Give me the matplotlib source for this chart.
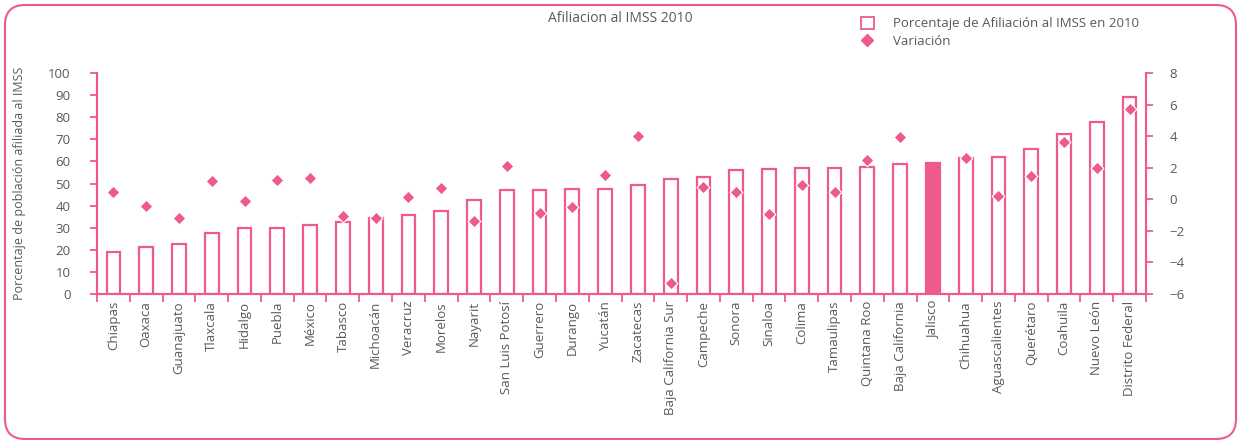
import numpy as np
import matplotlib
matplotlib.use("Agg")
import matplotlib.pyplot as plt
from matplotlib.patches import FancyBboxPatch, Patch
from matplotlib.lines import Line2D
from matplotlib.transforms import IdentityTransform

estados = ["Chiapas", "Oaxaca", "Guanajuato", "Tlaxcala", "Hidalgo", "Puebla", "México",
           "Tabasco", "Michoacán", "Veracruz", "Morelos", "Nayarit", "San Luis Potosí",
           "Guerrero", "Durango", "Yucatán", "Zacatecas", "Baja California Sur", "Campeche",
           "Sonora", "Sinaloa", "Colima", "Tamaulipas", "Quintana Roo", "Baja California",
           "Jalisco", "Chihuahua", "Aguascalientes", "Querétaro", "Coahuila", "Nuevo León",
           "Distrito Federal"]
afiliacion = [18.9, 21.3, 22.8, 27.6, 30.0, 30.0, 31.4, 32.7, 34.2, 35.9, 37.6, 42.4, 46.9,
              47.2, 47.5, 47.7, 49.3, 52.2, 53.1, 56.3, 56.6, 57.0, 57.0, 57.5, 59.0,
              59.4, 61.6, 62.0, 65.6, 72.4, 77.8, 89.1]
variacion = [0.45, -0.45, -1.17, 1.13, -0.11, 1.23, 1.38, -1.08, -1.2, 0.12, 0.73, -1.35, 2.14,
             -0.85, -0.49, 1.53, 4.03, -5.3, 0.79, 0.45, -0.95, 0.88, 0.47, 2.47, 3.94,
             np.nan, 2.64, 0.22, 1.46, 3.6, 1.97, 5.69]
destacado = "Jalisco"

rosa = "#ee5a8c"
gris = "#595959"
plt.rcParams['font.family'] = ['Open Sans', 'DejaVu Sans']

fig = plt.figure(figsize=(12.38, 4.4), dpi=100)
ax = fig.add_axes([97 / 1238, 1 - 294 / 440, 1049 / 1238, 221 / 440])
ax2 = ax.twinx()

x = np.arange(len(estados))
colores = [rosa if e == destacado else "white" for e in estados]
ax.bar(x, afiliacion, width=0.42, color=colores, edgecolor=rosa, linewidth=1.6, zorder=2)
ax2.scatter(x, variacion, marker="D", s=42, color=rosa, edgecolor="white", linewidth=0.8, zorder=3)

ax.set_xlim(-0.5, len(estados) - 0.5)
ax.set_ylim(0, 100)
ax.set_yticks(range(0, 101, 10))
ax2.set_ylim(-6, 8)
ax2.set_yticks(range(-6, 9, 2))

ax.set_xticks(x)
ax.set_xticklabels(estados, rotation=90, fontsize=9.5, color=gris)
ax.set_xticks(np.arange(-0.5, len(estados), 1), minor=True)
ax.tick_params(axis="x", which="major", length=0, pad=5)
ax.tick_params(axis="x", which="minor", length=6, width=1.3, color=rosa, direction="out")
ax.tick_params(axis="y", length=5, width=1.3, color=rosa, labelsize=9.5, labelcolor=gris, pad=14)
ax2.tick_params(axis="y", length=5, width=1.3, color=rosa, labelsize=9.5, labelcolor=gris, pad=12)
for a in (ax, ax2):
    a.spines["top"].set_visible(False)
    for lado in ("left", "right", "bottom"):
        a.spines[lado].set_color(rosa)
        a.spines[lado].set_linewidth(1.5)
ax.set_ylabel("Porcentaje de población afiliada al IMSS", fontsize=9, color=gris, labelpad=16)

fig.text(548 / 1238, 1 - 18 / 440, "Afiliacion al IMSS 2010", fontsize=10, color=gris, va="center")
handles = [Patch(facecolor="white", edgecolor=rosa, linewidth=1.3),
           Line2D([], [], marker="D", linestyle="none", color=rosa, markersize=6)]
fig.legend(handles, ["Porcentaje de Afiliación al IMSS en 2010", "Variación"],
           loc="upper left", bbox_to_anchor=(849 / 1238, 1 - 5 / 440), frameon=False,
           fontsize=9.5, labelcolor=gris, handlelength=1.0, handleheight=1.0,
           handletextpad=1.4, labelspacing=0.35)

# marco redondeado alrededor de toda la figura (en pixeles)
borde = FancyBboxPatch((5, 1), 1231, 434, boxstyle="round,pad=0,rounding_size=20",
                       transform=IdentityTransform(), facecolor="none", edgecolor=rosa,
                       linewidth=1.5)
fig.patches.append(borde)

fig.savefig("out.png", dpi=100)
